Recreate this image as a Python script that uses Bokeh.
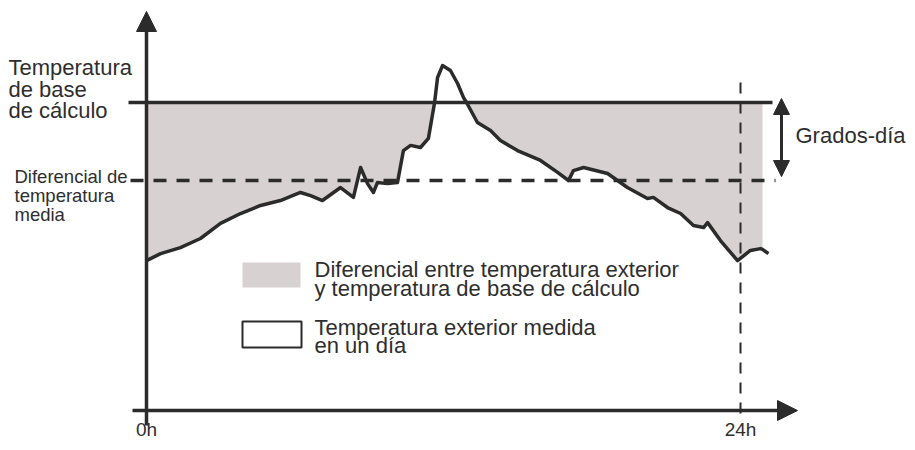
import numpy as np
from bokeh.plotting import figure
from bokeh.models import Range1d, Arrow, NormalHead
from bokeh.core.properties import value
from bokeh.embed import file_html
from bokeh.resources import INLINE

# ---- data (hours of the day, outdoor temperature in deg C) ----
hours = [0.00, 0.57, 1.37, 2.18, 2.99, 3.80, 4.61, 5.41, 6.22, 6.63, 7.11, 7.84,
         8.36, 8.65, 8.93, 9.17, 9.33, 9.74, 10.14, 10.38, 10.67, 11.07, 11.39,
         11.64, 11.76, 11.96, 12.28, 12.57, 12.81, 12.93, 13.37, 13.90, 14.30,
         14.99, 15.92, 16.61, 17.05, 17.25, 17.66, 18.63, 19.43, 20.24, 20.48,
         21.05, 21.58, 22.10, 22.51, 22.67, 23.19, 23.88, 24.40, 24.81, 24.89, 25.13]
temps = [8.92, 9.19, 9.42, 9.77, 10.35, 10.73, 11.04, 11.23, 11.54, 11.42, 11.23, 11.73,
         11.35, 12.50, 11.88, 11.54, 11.92, 11.88, 11.92, 13.15, 13.35, 13.27, 13.62,
         15.00, 15.96, 16.42, 16.23, 15.73, 15.19, 15.00, 14.23, 13.92, 13.54,
         13.15, 12.77, 12.31, 12.00, 12.38, 12.50, 12.27, 11.73, 11.31, 11.35,
         10.96, 10.73, 10.27, 10.19, 10.38, 9.69, 8.92, 9.31, 9.38, 9.35, 9.19]
base_temp = 15.0          # Temperatura de base de cálculo
mean_temp = 12.0          # Diferencial de temperatura media
fill_end_hour = 24.89     # the shaded area stops here
day_end_hour = 24.0
tick_hours = [0, 24]
tick_labels = ["0h", "24h"]

label_base = ["Temperatura", "de base", "de cálculo"]
label_mean = ["Diferencial de", "temperatura", "media"]
legend_fill = ["Diferencial entre temperatura exterior", "y temperatura de base de cálculo"]
legend_line = ["Temperatura exterior medida", "en  un día"]
label_degree_days = "Grados-día"

# ---- layout helpers (picture pixels -> data units) ----
def hx(px):
    return (px - 146) / 24.75

def ty(py):
    return (492 - py) / 26.0

W, H = 907, 442
INK = "#2b2b2b"
TXT = "#2e2e2e"
FILL = "#d8d1d1"
FONT = value("Liberation Sans")

p = figure(width=W, height=H, output_backend="svg", toolbar_location=None,
           x_range=Range1d(hx(0), hx(W)), y_range=Range1d(ty(H), ty(0)),
           x_axis_type=None, y_axis_type=None, min_border=0)
p.outline_line_color = None
p.grid.visible = False
p.background_fill_color = "white"

h = np.array(hours)
t = np.array(temps)
mask = h <= fill_end_hour
p.varea(x=h[mask], y1=np.minimum(t[mask], base_temp), y2=base_temp,
        fill_color=FILL, fill_alpha=1.0)

# reference lines
p.line([hx(128), hx(772)], [base_temp, base_temp], line_color=INK, line_width=3.5)
p.line([hx(130), hx(775)], [mean_temp, mean_temp], line_color=INK, line_width=3.5,
       line_dash="13 10")
p.line([day_end_hour, day_end_hour], [ty(82), ty(419)], line_color=INK, line_width=2,
       line_dash="11 9")

# measured curve
p.line(hours, temps, line_color=INK, line_width=3.5, line_join="round")

# axes as arrows
p.add_layout(Arrow(end=NormalHead(size=20, fill_color=INK, line_color=INK),
                   x_start=0, y_start=ty(425), x_end=0, y_end=ty(11),
                   line_color=INK, line_width=3.5))
p.add_layout(Arrow(end=NormalHead(size=20, fill_color=INK, line_color=INK),
                   x_start=hx(132), y_start=ty(410), x_end=hx(797), y_end=ty(410),
                   line_color=INK, line_width=3.5))

# degree-days double arrow
p.add_layout(Arrow(start=NormalHead(size=16, fill_color=INK, line_color=INK),
                   end=NormalHead(size=16, fill_color=INK, line_color=INK),
                   x_start=hx(781), y_start=ty(176), x_end=hx(781), y_end=ty(98),
                   line_color=INK, line_width=3))

# legend swatches
p.quad(left=hx(242), right=hx(300), bottom=ty(287), top=ty(262),
       fill_color=FILL, line_color=None)
p.quad(left=hx(242), right=hx(301), bottom=ty(347), top=ty(321),
       fill_color="white", line_color=INK, line_width=2)

def lines(texts, px, baselines, size, align="left"):
    # baselines given in picture pixels; text is anchored at the em-box middle
    s = float(size.rstrip("px"))
    p.text(x=[hx(px)] * len(texts), y=[ty(b - 0.35 * s) for b in baselines], text=texts,
           text_font=FONT, text_font_size=size, text_color=TXT,
           text_baseline="middle", text_align=align)

lines(label_base, 8, [75, 96.5, 118], "22px")
lines(label_mean, 14, [182, 201, 220], "18.5px")
lines(legend_fill, 314, [277, 296], "22px")
lines(legend_line, 314, [335, 353], "22px")
lines([label_degree_days], 795, [143], "22px")
p.text(x=tick_hours, y=[ty(436 - 0.35 * 19)] * 2, text=tick_labels, text_font=FONT,
       text_font_size="19px", text_color=TXT, text_baseline="middle",
       text_align="center")

open("out.html", "w").write(file_html(p, INLINE))
